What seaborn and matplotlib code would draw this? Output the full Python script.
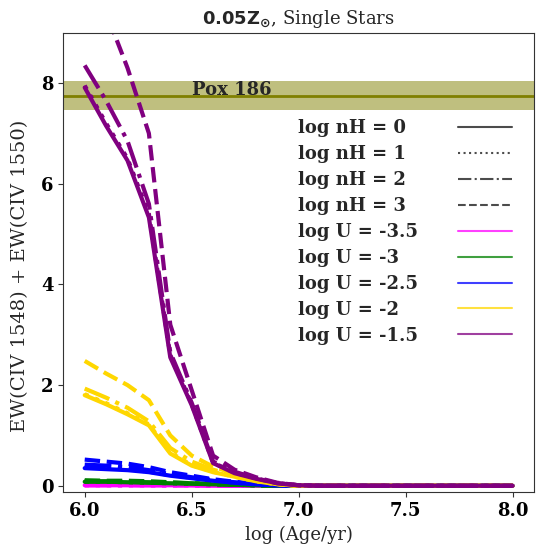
import numpy as np
import pandas as pd
import matplotlib
matplotlib.use("Agg")
import matplotlib.pyplot as plt
from matplotlib.lines import Line2D
import seaborn as sns

# ---------------- data ----------------
ages = [6.0, 6.1, 6.2, 6.3, 6.4, 6.5, 6.6, 6.7, 6.8, 6.9, 7.0,
        7.1, 7.2, 7.3, 7.4, 7.5, 7.6, 7.7, 7.8, 7.9, 8.0]
tail = [0.0] * 10

lognH_labels = ["log nH = 0", "log nH = 1", "log nH = 2", "log nH = 3"]
logU_labels = ["log U = -3.5", "log U = -3", "log U = -2.5", "log U = -2", "log U = -1.5"]
u_colors = ["magenta", "green", "blue", "gold", "purple"]
nh_styles = ["-", ":", "-.", "--"]

# logU = -3.5
m_n0 = [0.01, 0.01, 0.01, 0.01, 0.01, 0.01, 0.00, 0.00, 0.00, 0.00, 0.00] + tail
m_n1 = [0.01, 0.01, 0.01, 0.01, 0.01, 0.01, 0.00, 0.00, 0.00, 0.00, 0.00] + tail
m_n2 = [0.01, 0.01, 0.01, 0.01, 0.01, 0.01, 0.00, 0.00, 0.00, 0.00, 0.00] + tail
m_n3 = [0.02, 0.02, 0.02, 0.01, 0.01, 0.01, 0.00, 0.00, 0.00, 0.00, 0.00] + tail
# logU = -3
g_n0 = [0.08, 0.08, 0.07, 0.06, 0.05, 0.04, 0.03, 0.02, 0.01, 0.00, 0.00] + tail
g_n1 = [0.08, 0.08, 0.07, 0.06, 0.05, 0.04, 0.03, 0.02, 0.01, 0.00, 0.00] + tail
g_n2 = [0.09, 0.09, 0.08, 0.07, 0.06, 0.05, 0.03, 0.02, 0.01, 0.00, 0.00] + tail
g_n3 = [0.11, 0.10, 0.10, 0.09, 0.07, 0.05, 0.04, 0.02, 0.01, 0.00, 0.00] + tail
# logU = -2.5
b_n0 = [0.35, 0.33, 0.31, 0.27, 0.20, 0.15, 0.10, 0.06, 0.03, 0.01, 0.00] + tail
b_n1 = [0.37, 0.35, 0.33, 0.28, 0.21, 0.16, 0.11, 0.06, 0.03, 0.01, 0.00] + tail
b_n2 = [0.42, 0.40, 0.37, 0.31, 0.23, 0.17, 0.11, 0.07, 0.03, 0.01, 0.00] + tail
b_n3 = [0.52, 0.48, 0.44, 0.37, 0.27, 0.20, 0.13, 0.08, 0.04, 0.01, 0.00] + tail
# logU = -2
y_n0 = [1.80, 1.62, 1.42, 1.20, 0.64, 0.40, 0.27, 0.18, 0.09, 0.03, 0.00] + tail
y_n1 = [1.82, 1.64, 1.44, 1.22, 0.66, 0.41, 0.28, 0.18, 0.09, 0.03, 0.00] + tail
y_n2 = [1.93, 1.75, 1.55, 1.28, 0.75, 0.48, 0.32, 0.20, 0.10, 0.03, 0.00] + tail
y_n3 = [2.48, 2.23, 2.00, 1.70, 1.00, 0.60, 0.38, 0.24, 0.12, 0.04, 0.00] + tail
# logU = -1.5
p_n0 = [7.91, 7.15, 6.46, 5.33, 2.55, 1.60, 0.45, 0.25, 0.14, 0.05, 0.01] + tail
p_n1 = [7.95, 7.20, 6.50, 5.40, 2.60, 1.62, 0.46, 0.26, 0.15, 0.05, 0.01] + tail
p_n2 = [8.35, 7.65, 6.85, 5.60, 2.65, 1.65, 0.48, 0.28, 0.15, 0.05, 0.01] + tail
p_n3 = [10.5, 9.40, 8.30, 7.00, 3.20, 1.90, 0.60, 0.32, 0.17, 0.06, 0.01] + tail

series = [
    [m_n0, m_n1, m_n2, m_n3],
    [g_n0, g_n1, g_n2, g_n3],
    [b_n0, b_n1, b_n2, b_n3],
    [y_n0, y_n1, y_n2, y_n3],
    [p_n0, p_n1, p_n2, p_n3],
]

pox_ew = 7.75
pox_err = 0.29

# ---------------- style ----------------
sns.set_style("ticks")
plt.rcParams["font.family"] = ["DejaVu Serif"]
plt.rcParams["mathtext.fontset"] = "dejavusans"

fig = plt.figure(figsize=(5.43, 5.51), dpi=100)
ax = fig.add_axes([0.1166, 0.1065, 0.8668, 0.8342])

ax.axhspan(pox_ew - pox_err, pox_ew + pox_err, color="olive", alpha=0.5, lw=0, zorder=1)
ax.axhline(pox_ew, color="olive", lw=2, zorder=1.5)
ax.text(6.5, pox_ew + 0.02, "Pox 186", fontsize=13, fontweight="bold",
        va="baseline", ha="left", zorder=3)

for ci, color in enumerate(u_colors):
    for si, ls in enumerate(nh_styles):
        df = pd.DataFrame({"age": ages, "ew": series[ci][si]})
        sns.lineplot(data=df, x="age", y="ew", ax=ax, color=color,
                     linestyle=ls, lw=3, zorder=2)

ax.set_xlim(5.9, 8.1)
ax.set_ylim(-0.13, 9.0)
ax.set_xticks([6.0, 6.5, 7.0, 7.5, 8.0])
ax.set_xticklabels(["6.0", "6.5", "7.0", "7.5", "8.0"])
ax.set_yticks([0, 2, 4, 6, 8])
for lab in ax.get_xticklabels() + ax.get_yticklabels():
    lab.set_fontweight("bold")
    lab.set_fontsize(13)
    lab.set_color("black")
ax.tick_params(colors="0.2", labelcolor="black")
for sp in ax.spines.values():
    sp.set_color("0.2")

ax.set_xlabel("log (Age/yr)", fontsize=13)
ax.set_ylabel("EW(CIV 1548) + EW(CIV 1550)", fontsize=14)
ax.yaxis.set_label_coords(-0.072, 0.47)
ax.set_title(r"$\mathbf{0.05Z_{\odot}}$, Single Stars", fontsize=13)

handles = [Line2D([], [], color="k", alpha=0.7, lw=1.5, linestyle=ls) for ls in nh_styles]
handles += [Line2D([], [], color=c, alpha=0.75, lw=1.5) for c in u_colors]
labels = lognH_labels + logU_labels
prop = {"family": "DejaVu Serif", "weight": "bold", "size": 13}
top = 0.8118
# text column (left aligned)
leg_text = ax.legend(handles, labels, loc="upper left", bbox_to_anchor=(0.4986, top),
                     borderaxespad=0, borderpad=0, frameon=False,
                     handlelength=0, handletextpad=0, labelspacing=0.44, prop=prop)
for h in leg_text.legend_handles:
    h.set_visible(False)
ax.add_artist(leg_text)
# handle column
leg_h = ax.legend(handles, [""] * len(handles), loc="upper left", bbox_to_anchor=(0.8385, top),
                  borderaxespad=0, borderpad=0, frameon=False,
                  handlelength=3.0, handletextpad=0.0, labelspacing=0.44, prop=prop)

fig.savefig("out.png", dpi=100)
